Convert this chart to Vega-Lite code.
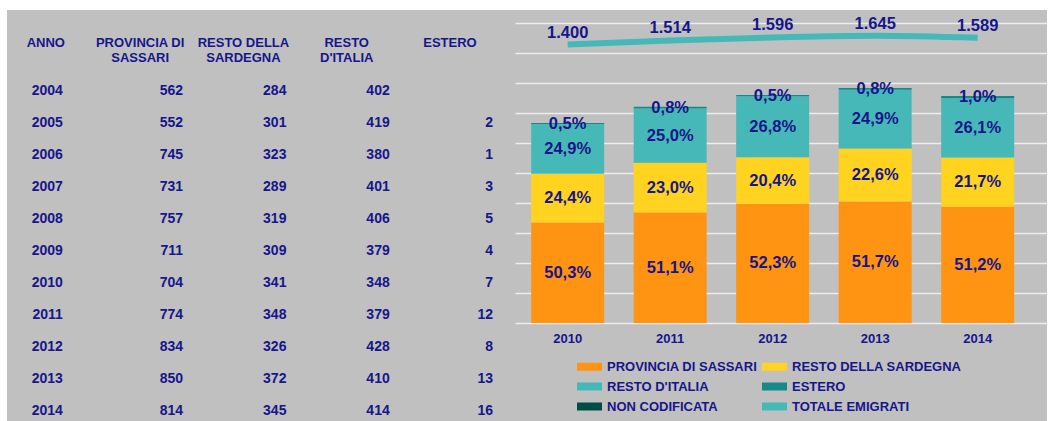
{
  "$schema": "https://vega.github.io/schema/vega-lite/v6.json",
  "background": "white",
  "padding": {"left": 7, "top": 10, "right": 0, "bottom": 0},
  "spacing": 0,
  "bounds": "flush",
  "config": {
    "view": {"fill": "#c0c0c0", "stroke": null},
    "font": "Liberation Sans",
    "text": {"font": "Liberation Sans", "fontWeight": "bold", "color": "#16168a"},
    "locale": {"number": {"decimal": ",", "thousands": ".", "grouping": [3], "currency": ["€", ""]}}
  },
  "datasets": {
    "tab": [
      {"anno": "2004", "prov": 562, "sard": 284, "ita": 402, "est": null},
      {"anno": "2005", "prov": 552, "sard": 301, "ita": 419, "est": 2},
      {"anno": "2006", "prov": 745, "sard": 323, "ita": 380, "est": 1},
      {"anno": "2007", "prov": 731, "sard": 289, "ita": 401, "est": 3},
      {"anno": "2008", "prov": 757, "sard": 319, "ita": 406, "est": 5},
      {"anno": "2009", "prov": 711, "sard": 309, "ita": 379, "est": 4},
      {"anno": "2010", "prov": 704, "sard": 341, "ita": 348, "est": 7},
      {"anno": "2011", "prov": 774, "sard": 348, "ita": 379, "est": 12},
      {"anno": "2012", "prov": 834, "sard": 326, "ita": 428, "est": 8},
      {"anno": "2013", "prov": 850, "sard": 372, "ita": 410, "est": 13},
      {"anno": "2014", "prov": 814, "sard": 345, "ita": 414, "est": 16}
    ],
    "hdr": [
      {"col": "anno", "label": "ANNO"},
      {"col": "prov", "label": "PROVINCIA DI\nSASSARI"},
      {"col": "sard", "label": "RESTO DELLA\nSARDEGNA"},
      {"col": "ita", "label": "RESTO\nD'ITALIA"},
      {"col": "est", "label": "ESTERO"}
    ],
    "bars": [
      {"anno": "2010", "cat": "PROVINCIA DI SASSARI", "n": 704, "pct": "50,3%"},
      {"anno": "2010", "cat": "RESTO DELLA SARDEGNA", "n": 341, "pct": "24,4%"},
      {"anno": "2010", "cat": "RESTO D'ITALIA", "n": 348, "pct": "24,9%"},
      {"anno": "2010", "cat": "ESTERO", "n": 7, "pct": "0,5%"},
      {"anno": "2011", "cat": "PROVINCIA DI SASSARI", "n": 774, "pct": "51,1%"},
      {"anno": "2011", "cat": "RESTO DELLA SARDEGNA", "n": 348, "pct": "23,0%"},
      {"anno": "2011", "cat": "RESTO D'ITALIA", "n": 379, "pct": "25,0%"},
      {"anno": "2011", "cat": "ESTERO", "n": 12, "pct": "0,8%"},
      {"anno": "2011", "cat": "NON CODIFICATA", "n": 1, "pct": null},
      {"anno": "2012", "cat": "PROVINCIA DI SASSARI", "n": 834, "pct": "52,3%"},
      {"anno": "2012", "cat": "RESTO DELLA SARDEGNA", "n": 326, "pct": "20,4%"},
      {"anno": "2012", "cat": "RESTO D'ITALIA", "n": 428, "pct": "26,8%"},
      {"anno": "2012", "cat": "ESTERO", "n": 8, "pct": "0,5%"},
      {"anno": "2013", "cat": "PROVINCIA DI SASSARI", "n": 850, "pct": "51,7%"},
      {"anno": "2013", "cat": "RESTO DELLA SARDEGNA", "n": 372, "pct": "22,6%"},
      {"anno": "2013", "cat": "RESTO D'ITALIA", "n": 410, "pct": "24,9%"},
      {"anno": "2013", "cat": "ESTERO", "n": 13, "pct": "0,8%"},
      {"anno": "2014", "cat": "PROVINCIA DI SASSARI", "n": 814, "pct": "51,2%"},
      {"anno": "2014", "cat": "RESTO DELLA SARDEGNA", "n": 345, "pct": "21,7%"},
      {"anno": "2014", "cat": "RESTO D'ITALIA", "n": 414, "pct": "26,1%"},
      {"anno": "2014", "cat": "ESTERO", "n": 16, "pct": "1,0%"}
    ],
    "tot": [
      {"anno": "2010", "tot": 1400},
      {"anno": "2011", "tot": 1514},
      {"anno": "2012", "tot": 1596},
      {"anno": "2013", "tot": 1645},
      {"anno": "2014", "tot": 1589}
    ]
  },
  "hconcat": [
    {
      "width": 508,
      "height": 411,
      "layer": [
        {
          "data": {"name": "hdr"},
          "transform": [{"filter": "datum.col == 'anno'"}],
          "mark": {"type": "text", "fontSize": 13, "dx": -34, "dy": -16, "align": "center", "baseline": "middle", "lineBreak": "\n", "lineHeight": 15},
          "encoding": {
            "x": {"field": "col", "type": "nominal", "scale": {"type": "point", "domain": ["anno", "prov", "sard", "ita", "est"], "padding": 0.459, "align": 0.768}, "axis": null},
            "y": {"datum": "h", "type": "nominal", "scale": {"type": "point", "domain": ["h", "2004", "2005", "2006", "2007", "2008", "2009", "2010", "2011", "2012", "2013", "2014"], "padding": 0.92, "align": 0.83}, "axis": null},
            "text": {"field": "label", "type": "nominal"}
          }
        },
        {
          "data": {"name": "hdr"},
          "transform": [{"filter": "datum.col != 'anno'"}],
          "mark": {"type": "text", "fontSize": 13, "dx": -43, "dy": -16, "align": "center", "baseline": "middle", "lineBreak": "\n", "lineHeight": 15},
          "encoding": {
            "x": {"field": "col", "type": "nominal"},
            "y": {"datum": "h", "type": "nominal"},
            "text": {"field": "label", "type": "nominal"}
          }
        },
        {
          "data": {"name": "tab"},
          "mark": {"type": "text", "fontSize": 14, "dx": -17, "align": "right", "baseline": "middle"},
          "encoding": {
            "x": {"datum": "anno", "type": "nominal"},
            "y": {"field": "anno", "type": "nominal"},
            "text": {"field": "anno", "type": "nominal"}
          }
        },
        {
          "data": {"name": "tab"},
          "transform": [
            {"fold": ["prov", "sard", "ita", "est"], "as": ["col", "val"]},
            {"filter": "datum.val != null"}
          ],
          "mark": {"type": "text", "fontSize": 14, "align": "right", "baseline": "middle"},
          "encoding": {
            "x": {"field": "col", "type": "nominal"},
            "y": {"field": "anno", "type": "nominal"},
            "text": {"field": "val", "type": "quantitative", "format": "d"}
          }
        }
      ]
    },
    {
      "width": 532,
      "height": 411,
      "layer": [
        {
          "data": {"name": "bars"},
          "transform": [
            {"calculate": "indexof([\"PROVINCIA DI SASSARI\", \"RESTO DELLA SARDEGNA\", \"RESTO D'ITALIA\", \"ESTERO\", \"NON CODIFICATA\"], datum.cat)", "as": "k"}
          ],
          "layer": [
            {
              "mark": {"type": "bar"},
              "encoding": {
                "x": {
                  "field": "anno", "type": "nominal",
                  "scale": {"paddingInner": 0.288, "paddingOuter": 0.239, "align": 0.33},
                  "axis": {"orient": "bottom", "offset": -98, "domain": false, "ticks": false, "grid": false, "labelAngle": 0, "labelFont": "Liberation Sans", "labelFontWeight": "bold", "labelFontSize": 13, "labelColor": "#16168a", "labelPadding": 9, "title": null}
                },
                "y": {
                  "field": "n", "type": "quantitative", "stack": "zero",
                  "scale": {"domain": [-686, 2191], "nice": false, "zero": false},
                  "axis": {"values": [0, 210, 420, 630, 840, 1050, 1260, 1470, 1680, 1890, 2100], "grid": true, "gridColor": "#ececec", "gridWidth": 1.5, "labels": false, "ticks": false, "domain": false, "title": null}
                },
                "color": {
                  "field": "cat", "type": "nominal",
                  "scale": {
                    "domain": ["PROVINCIA DI SASSARI", "RESTO D'ITALIA", "NON CODIFICATA", "RESTO DELLA SARDEGNA", "ESTERO", "TOTALE EMIGRATI"],
                    "range": ["#ff9412", "#47b8b8", "#004d48", "#ffd320", "#178a87", "#47b8b8"]
                  },
                  "legend": {
                    "orient": "none", "legendX": 570, "legendY": 344, "columns": 2, "title": null,
                    "symbolType": "M-1,-0.32H1V0.32H-1Z", "symbolSize": 625, "symbolStrokeWidth": 0, "symbolOpacity": 1,
                    "labelFont": "Liberation Sans", "labelFontWeight": "bold", "labelFontSize": 13, "labelColor": "#16168a",
                    "labelOffset": 5, "columnPadding": 4, "rowPadding": -1, "labelLimit": 300
                  }
                },
                "order": {"field": "k", "type": "quantitative"}
              }
            },
            {
              "transform": [
                {"stack": "n", "groupby": ["anno"], "sort": [{"field": "k"}], "as": ["y0", "y1"]},
                {"calculate": "(datum.y0 + datum.y1) / 2", "as": "mid"},
                {"filter": "datum.pct != null"}
              ],
              "mark": {"type": "text", "fontSize": 16.5, "baseline": "middle"},
              "encoding": {
                "x": {"field": "anno", "type": "nominal"},
                "y": {
                  "field": "mid", "type": "quantitative",
                  "axis": {"values": [0, 210, 420, 630, 840, 1050, 1260, 1470, 1680, 1890, 2100], "grid": true, "gridColor": "#ececec", "gridWidth": 1.5, "labels": false, "ticks": false, "domain": false, "title": null}
                },
                "text": {"field": "pct", "type": "nominal"}
              }
            }
          ]
        },
        {
          "data": {"name": "tot"},
          "layer": [
            {
              "mark": {"type": "line", "color": "#47b8b8", "strokeWidth": 6, "interpolate": "monotone"},
              "encoding": {
                "x": {"field": "anno", "type": "nominal"},
                "y": {"field": "tot", "type": "quantitative", "scale": {"domain": [-9087, 2361], "nice": false, "zero": false}, "axis": null}
              }
            },
            {
              "mark": {"type": "text", "fontSize": 16.5, "dy": -12, "baseline": "middle"},
              "encoding": {
                "x": {"field": "anno", "type": "nominal"},
                "y": {"field": "tot", "type": "quantitative", "axis": null},
                "text": {"field": "tot", "type": "quantitative", "format": ",d"}
              }
            }
          ]
        }
      ],
      "resolve": {"scale": {"y": "independent"}}
    },
    {
      "width": 4,
      "height": 411,
      "data": {"values": [{}]},
      "mark": {"type": "text", "text": ""}
    }
  ]
}
